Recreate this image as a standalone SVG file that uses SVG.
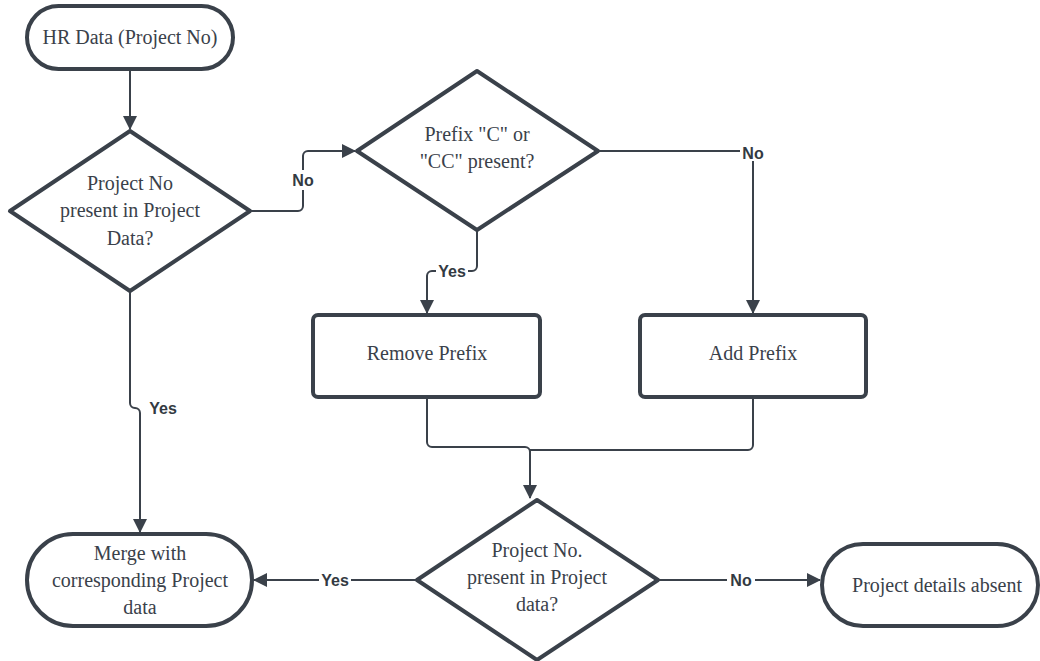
<svg xmlns="http://www.w3.org/2000/svg" width="1040" height="661" viewBox="0 0 1040 661">
<defs>
<style>
.shape{fill:#fff;stroke:#3a414a;stroke-width:4;stroke-linejoin:round}
.conn{fill:none;stroke:#3a414a;stroke-width:2;stroke-linejoin:round}
.t{font-family:"Liberation Serif","DejaVu Serif",serif;font-size:20px;fill:#3a414a;text-anchor:middle}
.lbl{font-family:"Liberation Sans",Arial,sans-serif;font-size:16px;font-weight:bold;fill:#333a42;text-anchor:middle}
.bg{fill:#fff}
</style>
<marker id="ah" viewBox="0 0 14 14" refX="13" refY="7" markerWidth="14" markerHeight="14" markerUnits="userSpaceOnUse" orient="auto">
<path d="M0,0 L14,7 L0,14 Z" fill="#3a414a"/>
</marker>
</defs>
<g id="connectors">
<path class="conn" d="M130,69 V129" marker-end="url(#ah)"/>
<path class="conn" d="M250,211 H298 a5,5 0 0 0 5,-5 V156 a5,5 0 0 1 5,-5 H355" marker-end="url(#ah)"/>
<path class="conn" d="M598,151 H748 a5,5 0 0 1 5,5 V313" marker-end="url(#ah)"/>
<path class="conn" d="M477,230 V266 a5,5 0 0 1 -5,5 H432 a5,5 0 0 0 -5,5 V313" marker-end="url(#ah)"/>
<path class="conn" d="M427,397 V442 a5,5 0 0 0 5,5 H525 a5,5 0 0 1 5,5"/>
<path class="conn" d="M753,397 V445 a5,5 0 0 1 -5,5 H530 V498" marker-end="url(#ah)"/>
<path class="conn" d="M130,291 V403 a5,5 0 0 0 5,5 a5,5 0 0 1 5,5 V532" marker-end="url(#ah)"/>
<path class="conn" d="M417,580 H254" marker-end="url(#ah)"/>
<path class="conn" d="M658,580 H820" marker-end="url(#ah)"/>
<rect class="bg" x="289" y="170" width="28" height="20"/>
<text class="lbl" x="303" y="186">No</text>
<rect class="bg" x="740" y="143" width="26" height="18"/>
<text class="lbl" x="753" y="159">No</text>
<rect class="bg" x="436" y="262" width="32" height="18"/>
<text class="lbl" x="452" y="277">Yes</text>
<text class="lbl" x="163" y="414">Yes</text>
<rect class="bg" x="319" y="571" width="32" height="18"/>
<text class="lbl" x="335" y="586">Yes</text>
<rect class="bg" x="727" y="571" width="28" height="18"/>
<text class="lbl" x="741" y="586">No</text>
</g>
<g id="hr-data">
<rect class="shape" x="27" y="6" width="206" height="63" rx="31.5"/>
<text class="t" x="130" y="44">HR Data (Project No)</text>
</g>
<g id="decision-project-no">
<path class="shape" d="M130,131 L250,211 L130,291 L10,211 Z"/>
<text class="t" x="130" y="190">Project No</text>
<text class="t" x="130" y="217">present in Project</text>
<text class="t" x="130" y="245">Data?</text>
</g>
<g id="decision-prefix">
<path class="shape" d="M477,71 L598,151 L477,230 L357,151 Z"/>
<text class="t" x="477" y="141">Prefix "C" or</text>
<text class="t" x="477" y="168">"CC" present?</text>
</g>
<g id="remove-prefix">
<rect class="shape" x="313" y="315" width="227" height="82" rx="5"/>
<text class="t" x="427" y="360">Remove Prefix</text>
</g>
<g id="add-prefix">
<rect class="shape" x="640" y="315" width="226" height="82" rx="5"/>
<text class="t" x="753" y="360">Add Prefix</text>
</g>
<g id="decision-project-no2">
<path class="shape" d="M537,500 L658,580 L537,660 L417,580 Z"/>
<text class="t" x="537" y="557">Project No.</text>
<text class="t" x="537" y="584">present in Project</text>
<text class="t" x="537" y="611">data?</text>
</g>
<g id="merge">
<rect class="shape" x="27" y="534" width="225" height="92" rx="46"/>
<text class="t" x="140" y="560">Merge with</text>
<text class="t" x="140" y="587">corresponding Project</text>
<text class="t" x="140" y="614">data</text>
</g>
<g id="details-absent">
<rect class="shape" x="822" y="544" width="216" height="82" rx="41"/>
<text class="t" x="937" y="592">Project details absent</text>
</g>
</svg>
